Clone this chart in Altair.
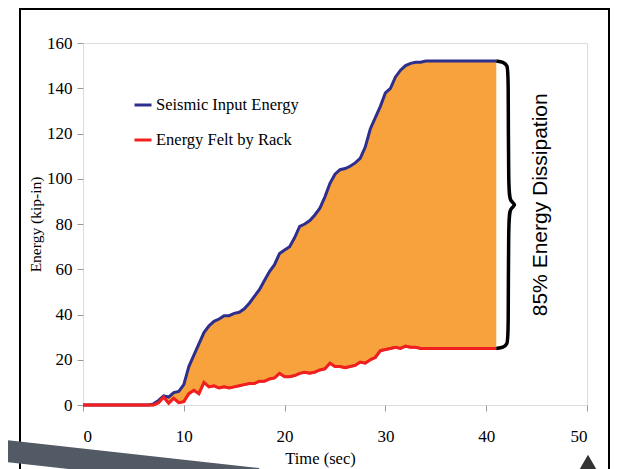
import altair as alt
import pandas as pd

# time grid (sec)
times = [i * 0.5 for i in range(83)]  # 0 .. 41

seismic = [0] * 14 + [
    0.5, 2, 4, 3.5, 5.5, 6, 9, 17, 22, 27, 32, 35, 37, 38, 39.5, 39.5, 40.5, 41,
    42.5, 45, 48, 51, 55, 59, 62, 67, 68.5, 70, 74, 79, 80, 81.5, 84, 87, 92, 98,
    102, 104, 104.5, 105.5, 107, 109, 114, 122, 127, 132, 138, 140, 145, 148, 150,
    151, 151.5, 151.5, 152,
] + [152] * 14

rack = [0] * 15 + [
    1, 3.5, 0.8, 3, 1, 1.5, 5, 6.5, 5, 10, 8, 8.5, 7.5, 8, 7.5, 8, 8.5, 9, 9.5,
    9.5, 10.5, 10.5, 11.5, 12, 14, 12.5, 12.5, 13, 14, 14.5, 14, 14.5, 15.5, 16,
    18.5, 17, 17, 16.5, 17, 17.5, 19, 18.5, 20, 21, 24, 24.5, 25, 25.5, 25, 26,
    25.5, 25.5, 25,
] + [25] * 15

series_names = ["Seismic Input Energy", "Energy Felt by Rack"]
series_colors = ["#2E2E8F", "#F02020"]
annotation = "85% Energy Dissipation"

x_ticks = [0, 10, 20, 30, 40, 50]
y_ticks = [0, 20, 40, 60, 80, 100, 120, 140, 160]

df = pd.DataFrame({"t": times, "blue": seismic, "red": rack})
long = pd.concat([
    pd.DataFrame({"t": times, "E": seismic, "series": series_names[0]}),
    pd.DataFrame({"t": times, "E": rack, "series": series_names[1]}),
])

top = seismic[-1]
bot = rack[-1]
mid = (top + bot) / 2
t_end = times[-1]
brace_t = [t_end, t_end + 0.7, t_end + 1.1, t_end + 1.2, t_end + 1.2, t_end + 1.4, t_end + 2.0,
           t_end + 1.4, t_end + 1.2, t_end + 1.2, t_end + 1.1, t_end + 0.7, t_end]
brace_e = [top, top - 0.3, top - 2, top - 5, mid + 5, mid + 1.5, mid,
           mid - 1.5, mid - 5, bot + 5, bot + 2, bot + 0.3, bot]
brace = pd.DataFrame({"t": brace_t, "E": brace_e, "i": list(range(len(brace_t)))})

xs = alt.Scale(domain=[0, 50], nice=False)
ys = alt.Scale(domain=[0, 160], nice=False)

serif = "Times New Roman, Liberation Serif, serif"

xaxis = alt.Axis(title="Time (sec)", values=x_ticks, format="d", grid=False, domain=False,
                 labelFont=serif, labelFontSize=17, labelColor="black", labelPadding=17,
                 tickSize=6, tickColor="#999999", titleFont=serif, titleFontSize=16.5,
                 titleFontWeight="normal", titleColor="black", titlePadding=6, titleX=237)
yaxis = alt.Axis(title="Energy (kip-in)", values=y_ticks, format="d", grid=False, domain=False,
                 labelFont=serif, labelFontSize=17, labelColor="black", labelPadding=5,
                 tickSize=6, tickColor="#999999", titleFont=serif, titleFontSize=15.5,
                 titleFontWeight="normal", titleColor="black", titlePadding=3)

area = alt.Chart(df).mark_area(color="#F7A23C").encode(
    x=alt.X("t:Q", scale=xs, axis=xaxis),
    y=alt.Y("blue:Q", scale=ys, axis=yaxis),
    y2="red:Q",
)

lines = alt.Chart(long).mark_line(strokeWidth=3).encode(
    x=alt.X("t:Q", scale=xs),
    y=alt.Y("E:Q", scale=ys),
    color=alt.Color("series:N", scale=alt.Scale(domain=series_names, range=series_colors),
                    legend=alt.Legend(orient="none", legendX=50, legendY=52, title=None,
                                      symbolType="stroke", symbolStrokeWidth=3, symbolSize=289,
                                      labelFont=serif, labelFontSize=16.5, labelColor="black",
                                      rowPadding=16, padding=0, labelOffset=3)),
)

red_top = alt.Chart(df).mark_line(strokeWidth=2.5, color=series_colors[1]).encode(
    x=alt.X("t:Q", scale=xs),
    y=alt.Y("red:Q", scale=ys),
)

brace_line = alt.Chart(brace).mark_line(color="black", strokeWidth=3.5, interpolate="basis").encode(
    x=alt.X("t:Q", scale=xs),
    y=alt.Y("E:Q", scale=ys),
    order="i:Q",
)

label = alt.Chart(pd.DataFrame({"t": [45.4], "E": [mid], "txt": [annotation]})).mark_text(
    angle=270, font="Liberation Sans", fontSize=21, color="black", align="center", baseline="middle"
).encode(x=alt.X("t:Q", scale=xs), y=alt.Y("E:Q", scale=ys), text="txt:N")

one = pd.DataFrame({"a": [0]})

frame = alt.Chart(one).mark_rect(filled=False, stroke="black", strokeWidth=2).encode(
    x=alt.value(-63), x2=alt.value(526), y=alt.value(-34), y2=alt.value(450)
)

# slide decorations at the bottom edge
swoosh = alt.Chart(one).mark_rule(color="#525a66", strokeWidth=22, strokeCap="butt").encode(
    x=alt.value(-95), y=alt.value(406), x2=alt.value(175), y2=alt.value(436)
)
corner = alt.Chart(one).mark_point(shape="triangle-up", filled=True, color="#333333", size=800, opacity=1).encode(
    x=alt.value(505), y=alt.value(424)
)

chart = alt.layer(frame, area, lines, red_top, brace_line, label, swoosh, corner).properties(
    width=504, height=362,
    autosize=alt.AutoSizeParams(type="none"),
    padding={"left": 75, "top": 35, "right": 29, "bottom": 75},
).configure_view(stroke="#BBBBBB", strokeWidth=1.5).configure(background="white")

chart.save("out.html", embed_options={"renderer": "svg", "actions": False})
